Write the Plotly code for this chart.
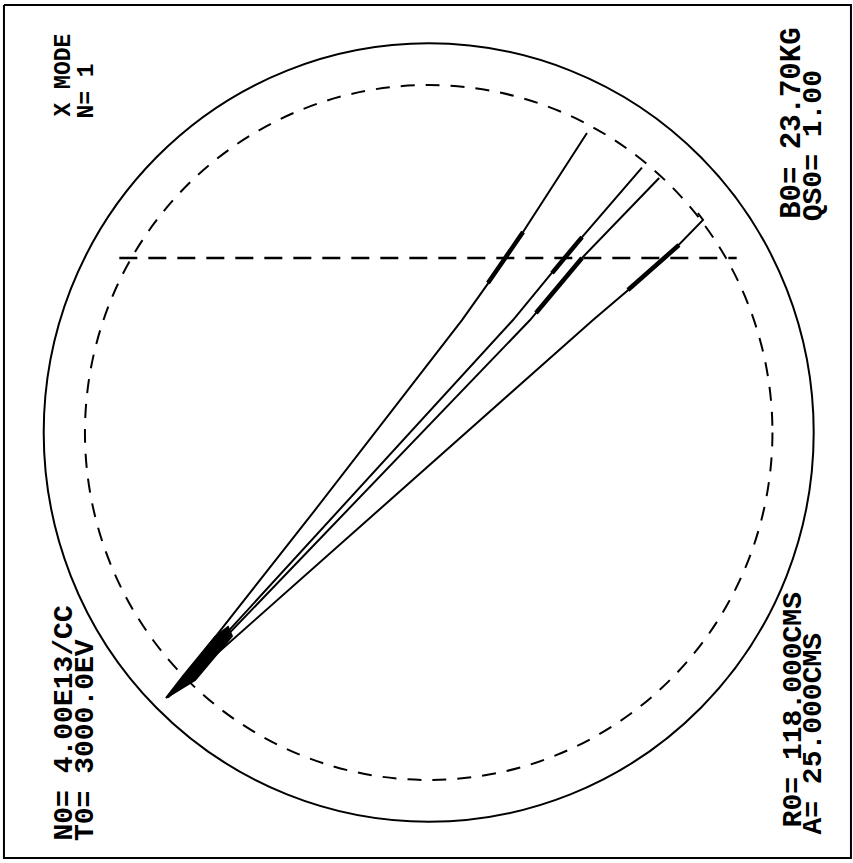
import plotly.graph_objects as go

# ---- geometry (cm) ----
wall_radius = 28.0
plasma_radius = 25.0
layer_y = 12.55
layer_x = [-22.5, 22.4]

frame_x = [-30.89, 30.71, 30.71, -30.89, -30.89]
frame_y = [30.76, 30.76, -30.61, -30.61, 30.76]

# ---- ray paths (cm) ----
rayA_x = [-18.96, -8.27, 2.42, 5.69, 11.51]
rayA_y = [-19.03, -5.58, 8.09, 12.63, 21.55]
rayB_x = [-18.96, 6.13, 9.91, 15.51]
rayB_y = [-19.03, 8.09, 12.63, 19.06]
rayC_x = [-18.96, 7.37, 10.79, 16.76]
rayC_y = [-19.03, 8.09, 12.19, 18.31]
rayD_x = [-18.96, 11.95, 17.33, 19.95, 19.58]
rayD_y = [-19.03, 8.09, 12.63, 15.29, 15.79]

# dense (overlapping) parts of the rays
denseA_x = [4.31, 6.86]
denseA_y = [10.76, 14.42]
denseB_x = [8.97, 11.15]
denseB_y = [11.47, 14.06]
denseC_x = [7.80, 11.15]
denseC_y = [8.60, 12.55]
denseD_x = [14.49, 18.20]
denseD_y = [10.25, 13.49]

wedge_x = [-19.11, -17.87, -15.54, -14.60, -14.31, -15.91, -16.99, -19.11]
wedge_y = [-19.10, -17.52, -14.71, -13.99, -14.64, -16.51, -17.81, -19.10]

# ---- labels ----
labels = ["N0= 4.00E13/CC", "T0= 3000.0EV", "R0= 118.000CMS", "A= 25.000CMS",
          "B0= 23.70KG", "QS0= 1.00", "X MODE", "N= 1"]

# annotation placement (x, y in cm, font size)
label_pos = [(-26.52, -29.46, 28), (-24.92, -29.46, 28), (26.49, -28.44, 28), (28.02, -29.0, 28),
             (26.45, 15.29, 29), (28.0, 15.14, 28), (-26.52, 22.63, 23), (-24.85, 22.48, 23)]

fig = go.Figure()

def line(xs, ys, w=2.0, dash=None):
    fig.add_trace(go.Scatter(x=xs, y=ys, mode="lines",
                             line=dict(color="black", width=w, dash=dash),
                             hoverinfo="skip", showlegend=False))

line(frame_x, frame_y, 2.0)
for xs, ys in [(rayA_x, rayA_y), (rayB_x, rayB_y), (rayC_x, rayC_y), (rayD_x, rayD_y)]:
    line(xs, ys, 2.0)
for xs, ys in [(denseA_x, denseA_y), (denseB_x, denseB_y), (denseC_x, denseC_y), (denseD_x, denseD_y)]:
    line(xs, ys, 4.5)
fig.add_trace(go.Scatter(x=wedge_x, y=wedge_y, mode="lines", fill="toself",
                         fillcolor="black", line=dict(color="black", width=2),
                         hoverinfo="skip", showlegend=False))
line(layer_x, [layer_y, layer_y], 2.5, "18px,11px")

fig.add_shape(type="circle", xref="x", yref="y",
              x0=-wall_radius, x1=wall_radius, y0=-wall_radius, y1=wall_radius,
              line=dict(color="black", width=2))
fig.add_shape(type="circle", xref="x", yref="y",
              x0=-plasma_radius, x1=plasma_radius, y0=-plasma_radius, y1=plasma_radius,
              line=dict(color="black", width=2, dash="14px,11px"))

for t, (x, y, s) in zip(labels, label_pos):
    fig.add_annotation(x=x, y=y, xref="x", yref="y", text="<b>" + t + "</b>", showarrow=False,
                       textangle=-90, xanchor="center", yanchor="bottom",
                       borderpad=0, align="left",
                       font=dict(family="Liberation Mono", size=s, color="black"))

fig.update_xaxes(range=[-428.7 / 13.75, (853 - 428.7) / 13.75], visible=False, fixedrange=True)
fig.update_yaxes(range=[(432.5 - 863) / 13.9, 432.5 / 13.9], visible=False, fixedrange=True)
fig.update_layout(width=853, height=863, margin=dict(l=0, r=0, t=0, b=0),
                  paper_bgcolor="white", plot_bgcolor="white")

fig.write_html("out.html", config={"displayModeBar": False},
               post_script="document.body.style.margin='0';document.body.style.overflow='hidden';")
